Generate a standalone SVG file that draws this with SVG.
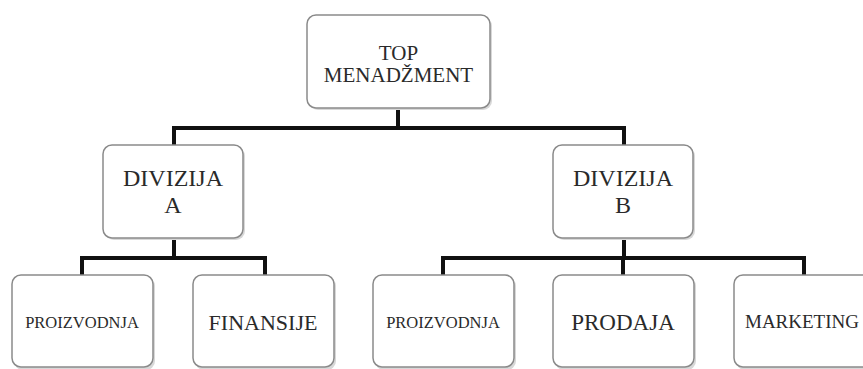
<svg xmlns="http://www.w3.org/2000/svg" width="863" height="369" viewBox="0 0 863 369">
<style>
.box{fill:#fff;stroke:#8a8a8a;stroke-width:1.5}
.sh{fill:#d8d8d8}
.t{font-family:'Liberation Serif','DejaVu Serif','Times New Roman',Times,serif;fill:#2a2a2a;text-anchor:middle}
.c{fill:none;stroke:#111;stroke-width:4;stroke-linejoin:miter}
</style>
<g id="connectors">
<path class="c" d="M398 108V128M174 145V128H624V145"/>
<path class="c" d="M174 238V258M82 275V258H265V275"/>
<path class="c" d="M624 238V258M443 275V258H804V275M623 258V275"/>
</g>
<g id="top">
<rect class="sh" x="309" y="17" width="183" height="93" rx="9"/>
<rect class="box" x="307" y="15" width="183" height="93" rx="9"/>
<text class="t" x="398.5" y="60" font-size="21">TOP</text>
<text class="t" x="398.5" y="82" font-size="21">MENADŽMENT</text>
</g>
<g id="divA">
<rect class="sh" x="105" y="147" width="140" height="93" rx="9"/>
<rect class="box" x="103" y="145" width="140" height="93" rx="9"/>
<text class="t" x="173" y="186" font-size="24">DIVIZIJA</text>
<text class="t" x="173" y="213" font-size="24">A</text>
</g>
<g id="divB">
<rect class="sh" x="555" y="147" width="140" height="93" rx="9"/>
<rect class="box" x="553" y="145" width="140" height="93" rx="9"/>
<text class="t" x="623" y="186" font-size="24">DIVIZIJA</text>
<text class="t" x="623" y="213" font-size="24">B</text>
</g>
<g id="proizA">
<rect class="sh" x="14" y="277" width="141" height="93" rx="9"/>
<rect class="box" x="12" y="275" width="141" height="92" rx="9"/>
<text class="t" x="82" y="328" font-size="16.5">PROIZVODNJA</text>
</g>
<g id="finansije">
<rect class="sh" x="195" y="277" width="141" height="93" rx="9"/>
<rect class="box" x="193" y="275" width="141" height="92" rx="9"/>
<text class="t" x="263" y="330" font-size="22">FINANSIJE</text>
</g>
<g id="proizB">
<rect class="sh" x="375" y="277" width="141" height="93" rx="9"/>
<rect class="box" x="373" y="275" width="141" height="92" rx="9"/>
<text class="t" x="443" y="328" font-size="16.5">PROIZVODNJA</text>
</g>
<g id="prodaja">
<rect class="sh" x="555" y="277" width="141" height="93" rx="9"/>
<rect class="box" x="553" y="275" width="141" height="92" rx="9"/>
<text class="t" x="623" y="330" font-size="23">PRODAJA</text>
</g>
<g id="marketing">
<rect class="sh" x="736" y="277" width="141" height="93" rx="9"/>
<rect class="box" x="734" y="275" width="141" height="92" rx="9"/>
<text class="t" x="802" y="328" font-size="19">MARKETING</text>
</g>
</svg>
